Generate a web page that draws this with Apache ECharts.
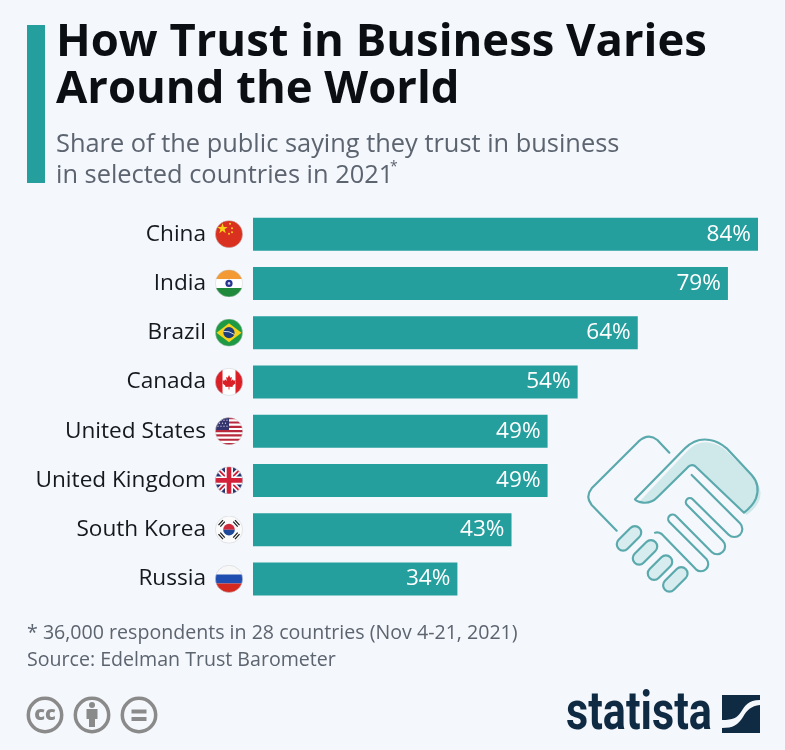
<!DOCTYPE html>
<html>
<head>
<meta charset="UTF-8"/>
<title>How Trust in Business Varies Around the World</title>
<script src="https://cdn.jsdelivr.net/npm/echarts@6/dist/echarts.min.js"></script>
<style>
html,body{margin:0;padding:0;background:#f4f7fb;}
#placeholder{width:785px;height:750px;}
</style>
</head>
<body>
<div id="placeholder"></div>
<script type="text/javascript">
var countries = ['China','India','Brazil','Canada','United States','United Kingdom','South Korea','Russia'];
var trust = [84,79,64,54,49,49,43,34];
var flagKeys = ['cn','in','br','ca','us','gb','kr','ru'];

var teal = '#259e9e';
var ink = '#14191f';
var grey = '#5c6470';
var iconGrey = '#8a8a8a';

function svgUri(w,h,vb,body){
    return 'data:image/svg+xml;charset=utf-8,' + encodeURIComponent(
        '<svg xmlns="http://www.w3.org/2000/svg" width="'+w+'" height="'+h+'" viewBox="'+vb+'">' + body + '</svg>');
}
// small round flags, used as images in the axis labels
function flagSvg(body){
    return svgUri(112,112,'0 0 28 28',
        '<defs><clipPath id="c"><circle cx="14" cy="14" r="13.6"/></clipPath></defs>' +
        '<g clip-path="url(#c)">' + body + '</g>' +
        '<circle cx="14" cy="14" r="13.6" fill="none" stroke="#c9ccd0" stroke-width="0.5"/>');
}
var flags = {
    cn: flagSvg('<rect width="28" height="28" fill="#d9301f"/><polygon points="7.5,3 8.8,6.8 12.7,6.8 9.6,9.2 10.7,13 7.5,10.7 4.3,13 5.4,9.2 2.3,6.8 6.2,6.8" fill="#fbd116"/><circle cx="15" cy="3.5" r="1" fill="#fbd116"/><circle cx="17" cy="8" r="1" fill="#fbd116"/><circle cx="17" cy="12" r="1" fill="#fbd116"/><circle cx="14" cy="13.5" r="1" fill="#fbd116"/>'),
    in: flagSvg('<rect width="28" height="9.5" fill="#f39a35"/><rect y="9.5" width="28" height="9" fill="#fff"/><rect y="18.5" width="28" height="9.5" fill="#1f8a3b"/><circle cx="14" cy="14" r="3.6" fill="#27358f"/><circle cx="14" cy="14" r="1.3" fill="#cfd3ea"/>'),
    br: flagSvg('<rect width="28" height="28" fill="#1f9a44"/><polygon points="14,4.5 26.5,14 14,23.5 1.5,14" fill="#f6d21c"/><circle cx="14" cy="14" r="5.6" fill="#1e3d7b"/><path d="M8.6,12.8 Q14,12 19.4,15.8" stroke="#fff" stroke-width="0.8" fill="none"/>'),
    ca: flagSvg('<rect width="28" height="28" fill="#fff"/><rect width="7.5" height="28" fill="#db1f26"/><rect x="20.5" width="7.5" height="28" fill="#db1f26"/><polygon points="14,7 15.3,9.8 16.9,9 16.2,13 18,11.4 18.6,12.8 20.6,12.4 20,14.6 20.8,15.2 17.4,18 17.8,19.2 14.4,18.8 14.4,21.5 13.6,21.5 13.6,18.8 10.2,19.2 10.6,18 7.2,15.2 8,14.6 7.4,12.4 9.4,12.8 10,11.4 11.8,13 11.1,9 12.7,9.8" fill="#db1f26"/>'),
    us: flagSvg('<rect width="28" height="28" fill="#fff"/><g fill="#b8283d"><rect y="0" width="28" height="2.15"/><rect y="4.3" width="28" height="2.15"/><rect y="8.6" width="28" height="2.15"/><rect y="12.9" width="28" height="2.15"/><rect y="17.2" width="28" height="2.15"/><rect y="21.5" width="28" height="2.15"/><rect y="25.8" width="28" height="2.2"/></g><rect width="14" height="12.9" fill="#33336e"/><g fill="#e4e4f0"><circle cx="6" cy="3" r=".6"/><circle cx="9" cy="3" r=".6"/><circle cx="12" cy="3" r=".6"/><circle cx="4.5" cy="6" r=".6"/><circle cx="7.5" cy="6" r=".6"/><circle cx="10.5" cy="6" r=".6"/><circle cx="3" cy="9" r=".6"/><circle cx="6" cy="9" r=".6"/><circle cx="9" cy="9" r=".6"/><circle cx="12" cy="9" r=".6"/></g>'),
    gb: flagSvg('<rect width="28" height="28" fill="#27336f"/><path d="M0,0 L28,28 M28,0 L0,28" stroke="#fff" stroke-width="5"/><path d="M0,0 L28,28 M28,0 L0,28" stroke="#d3213a" stroke-width="1.8"/><path d="M14,0 V28 M0,14 H28" stroke="#fff" stroke-width="8"/><path d="M14,0 V28 M0,14 H28" stroke="#d3213a" stroke-width="4.6"/>'),
    kr: flagSvg('<rect width="28" height="28" fill="#fbfbfb"/><path d="M8.2,14 A5.8,5.8 0 0 1 19.8,14 Z" fill="#cf2a3a"/><path d="M8.2,14 A5.8,5.8 0 0 0 19.8,14 Z" fill="#1f4a9a"/><g stroke="#222" stroke-width="1.3"><path d="M3.5,9.5 L8,4.5 M5.3,11 L9.8,6"/><path d="M18.2,6 L22.7,11 M20,4.5 L24.5,9.5"/><path d="M3.5,18.5 L8,23.5 M5.3,17 L9.8,22"/><path d="M18.2,22 L22.7,17 M20,23.5 L24.5,18.5"/></g>'),
    ru: flagSvg('<rect width="28" height="9.5" fill="#f7f7f7"/><rect y="9.5" width="28" height="9" fill="#1f4db0"/><rect y="18.5" width="28" height="9.5" fill="#d3291f"/>')
};

// handshake picture, drawn on a 600x540 canvas
var handshake = svgUri(400,360,'0 0 600 540',
    '<path d="M205,248 L350,95 Q380,62 420,68 Q450,72 475,98 L552,175 Q578,205 570,235 Q560,265 530,285 L380,140 Q368,130 355,142 L262,232 Q245,250 220,248 Z" fill="#cfe8ea"/>' +
    '<g fill="none" stroke="#5aa9ad" stroke-width="6.5" stroke-linecap="round" stroke-linejoin="round">' +
    '<path d="M298,98 L262,60 Q235,38 205,65 L65,205 Q45,230 65,255 L140,332"/>' +
    '<path d="M195,238 L345,85 Q378,52 420,60 Q445,64 470,85 L545,165 Q572,195 558,235 Q548,258 522,278 L375,138 Q365,132 355,140 L262,232 Q245,250 220,248 Q200,245 195,238"/>' +
    '<path d="M365,165 L510,310 A24,24 0 0 1 476,344 L368,238 A10.5,10.5 0 0 0 351,255 L458,362 A23,23 0 0 1 425,396 L318,288 A10.5,10.5 0 0 0 298,306 L410,418 A22,22 0 0 1 378,448 L275,342 Q265,335 255,338"/>' +
    '</g>' +
    '<g fill="#d7ecee" stroke="#5aa9ad" stroke-width="6.5" stroke-linejoin="round">' +
    '<rect x="-44" y="-19" width="88" height="38" rx="19" transform="translate(177,355) rotate(-45)"/>' +
    '<rect x="-44" y="-19" width="88" height="38" rx="19" transform="translate(225,397) rotate(-45)"/>' +
    '<rect x="-44" y="-19" width="88" height="38" rx="19" transform="translate(270,443) rotate(-45)"/>' +
    '<rect x="-44" y="-19" width="88" height="38" rx="19" transform="translate(316,478) rotate(-45)"/>' +
    '</g>');

var logoMark = svgUri(152,152,'0 0 38 38',
    '<path d="M0,0 H38 V5 C26,5 23,11 19,17 C15,23 11,25 0,25 Z M38,10 V38 H0 V33 C11,33 16,30 21,22 C25,15 29,11 38,10 Z" fill="#0f2a43"/>');

var labelRich = {
    name: {fontFamily:'Open Sans',fontSize:22.6,color:ink,padding:[0,9,0,0]}
};
flagKeys.forEach(function(k){
    labelRich[k] = {height:28,width:28,backgroundColor:{image:flags[k]}};
});

var myChart = echarts.init(document.getElementById('placeholder'),null,{renderer:'canvas'});

var option = {
    backgroundColor:'#f4f7fb',
    animation:false,
    grid:{left:253,top:209.5,width:505,height:394,containLabel:false},
    xAxis:{type:'value',min:0,max:84,show:false},
    yAxis:{
        type:'category',
        inverse:true,
        data:countries,
        axisLine:{show:false},
        axisTick:{show:false},
        axisLabel:{
            margin:10,
            formatter:function(v,i){return '{name|'+v+'}{'+flagKeys[i]+'|}';},
            rich:labelRich
        }
    },
    series:[{
        type:'bar',
        data:trust,
        barWidth:33,
        itemStyle:{color:teal},
        silent:true,
        label:{
            show:true,
            position:'insideRight',
            distance:7,
            formatter:'{c}%',
            fontFamily:'Open Sans',
            fontSize:22.6,
            color:'#fff'
        }
    }],
    graphic:[
        {type:'rect',shape:{x:27,y:25,width:18,height:158},style:{fill:teal}},
        {type:'text',x:56,y:21,style:{text:'How Trust in Business Varies',fontFamily:'Open Sans',fontWeight:700,fontSize:45.4,fill:'#0b0f14'}},
        {type:'text',x:56,y:68,style:{text:'Around the World',fontFamily:'Open Sans',fontWeight:700,fontSize:45.4,fill:'#0b0f14'}},
        {type:'text',x:56,y:132,style:{text:'Share of the public saying they trust in business',fontFamily:'Open Sans',fontSize:25.4,fill:grey}},
        {type:'text',x:56,y:163,style:{text:'in selected countries in 2021',fontFamily:'Open Sans',fontSize:25.4,fill:grey}},
        {type:'text',x:390,y:160,style:{text:'*',fontFamily:'Open Sans',fontSize:14,fill:grey}},
        {type:'text',x:27,y:623,style:{text:'* 36,000 respondents in 28 countries (Nov 4-21, 2021)',fontFamily:'Open Sans',fontSize:19.6,fill:grey}},
        {type:'text',x:27,y:650,style:{text:'Source: Edelman Trust Barometer',fontFamily:'Open Sans',fontSize:19.6,fill:grey}},

        {type:'image',silent:true,style:{image:handshake,x:570,y:420,width:200,height:180}},

        // licence icons
        {type:'circle',shape:{cx:45,cy:715,r:16.7},style:{fill:'none',stroke:iconGrey,lineWidth:3.5}},
        {type:'text',x:45,y:714,style:{text:'cc',fontFamily:'Open Sans',fontWeight:800,fontSize:20,fill:iconGrey,align:'center',verticalAlign:'middle'}},
        {type:'circle',shape:{cx:92,cy:715,r:16.7},style:{fill:'none',stroke:iconGrey,lineWidth:3.5}},
        {type:'circle',shape:{cx:92,cy:705,r:3},style:{fill:iconGrey}},
        {type:'polygon',shape:{points:[[86.5,709],[97.5,709],[97.5,719],[95,719],[95,727],[89,727],[89,719],[86.5,719]]},style:{fill:iconGrey}},
        {type:'circle',shape:{cx:139,cy:715,r:16.7},style:{fill:'none',stroke:iconGrey,lineWidth:3.5}},
        {type:'rect',shape:{x:131.5,y:709.5,width:15,height:4},style:{fill:iconGrey}},
        {type:'rect',shape:{x:131.5,y:717,width:15,height:4},style:{fill:iconGrey}},

        // statista logo
        {type:'text',x:566,y:688,scaleX:0.8,style:{text:'statista',fontFamily:'Roboto',fontWeight:700,fontSize:54,fill:'#0f2a43'}},
        {type:'image',style:{image:logoMark,x:722,y:695,width:38,height:38}}
    ]
};
myChart.setOption(option,true);
</script>
</body>
</html>
